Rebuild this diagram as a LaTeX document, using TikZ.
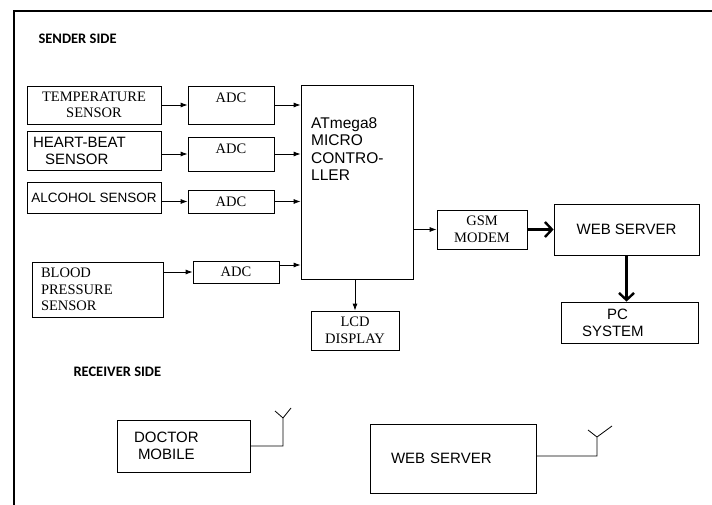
\documentclass[tikz,border=0pt]{standalone}
\usepackage{fontspec}
\setmainfont{Liberation Serif}
\setsansfont{Liberation Sans}
\newfontfamily\headfont{Carlito}
\usetikzlibrary{arrows.meta}
\tikzset{
  blk/.style={draw,line width=0.8pt,inner sep=0pt},
  rmtxt/.style={font=\rmfamily\fontsize{14.5}{16.5}\selectfont},
  sftxt/.style={font=\sffamily\fontsize{15}{17}\selectfont},
  head/.style={font=\headfont\bfseries\fontsize{14.5}{16}\selectfont,anchor=west},
  sig/.style={-{Latex[length=7pt,width=5pt]},line width=0.8pt},
  bus/.style={-{Straight Barb[length=7pt,width=15pt]},line width=2.4pt},
  wire/.style={line width=0.8pt},
}
\begin{document}
\begin{tikzpicture}[x=1pt,y=-1pt]
\useasboundingbox (0,0) rectangle (712,505);
\draw[line width=2pt] (712,11) -- (14,11) -- (14,505);

\node[head] (sender) at (35,39) {SENDER SIDE};
\node[head] (receiver) at (70,372) {RECEIVER SIDE};

% sensors
\node[blk,rmtxt,align=center,minimum width=134pt,minimum height=38pt] (temp) at (94,105) {TEMPERATURE\\SENSOR};
\node[blk,sftxt,align=left,text width=122pt,inner xsep=6pt,minimum height=39pt] (heart) at (94,150.5) {HEART-BEAT\\\hspace*{12pt}SENSOR};
\node[blk,sftxt,font=\sffamily\fontsize{13.5}{15}\selectfont,minimum width=134pt,minimum height=31pt] (alco) at (94,197.5) {ALCOHOL SENSOR};
\node[blk,rmtxt,align=left,text width=113pt,inner xsep=9pt,minimum height=55pt] (bp) at (97.5,289.5) {BLOOD\\PRESSURE\\SENSOR};

% converters
\node[blk,minimum width=86pt,minimum height=38pt] (adc1) at (231,105) {};
\node[rmtxt] (adc1txt) at (231,98) {ADC};
\node[blk,minimum width=86pt,minimum height=34pt] (adc2) at (231,154) {};
\node[rmtxt] (adc2txt) at (231,149) {ADC};
\node[blk,rmtxt,minimum width=86pt,minimum height=23pt] (adc3) at (231,201.5) {ADC};
\node[blk,rmtxt,minimum width=86pt,minimum height=22pt] (adc4) at (236,272) {ADC};

% controller
\node[blk,minimum width=112pt,minimum height=194pt] (mcu) at (357,182) {};
\node[sftxt,font=\sffamily\fontsize{15.5}{17.5}\selectfont,align=left,anchor=north west,inner sep=0pt] (mcutxt) at (311,117) {ATmega8\\MICRO\\CONTRO-\\LLER};

\node[blk,rmtxt,align=center,minimum width=88pt,minimum height=39pt] (lcd) at (355,330.5) {LCD\\DISPLAY};
\node[blk,rmtxt,align=center,minimum width=90pt,minimum height=39pt] (gsm) at (482,229.5) {GSM\\MODEM};
\node[blk,sftxt,minimum width=145pt,minimum height=51pt] (web) at (626.5,229.5) {WEB SERVER};
\node[blk,sftxt,align=left,text width=95pt,inner xsep=21pt,minimum height=41pt] (pc) at (629.5,322.5) {\hspace*{25pt}PC\\SYSTEM};

% receiver
\node[blk,sftxt,align=left,text width=99pt,inner xsep=17pt,minimum height=52pt] (doc) at (183.5,446) {DOCTOR\\\hspace*{4pt}MOBILE};
\node[blk,sftxt,align=left,text width=124pt,inner xsep=21pt,minimum height=69pt] (web2) at (453,458.5) {WEB SERVER};

\draw[sig] (temp.east) -- (adc1.west);
\draw[sig] (heart.east |- adc2) -- (adc2.west);
\draw[sig] (alco.east |- adc3) -- (adc3.west);
\draw[sig] (bp.east |- adc4) -- (adc4.west);
\draw[sig] (adc1.east) -- (adc1.east -| mcu.west);
\draw[sig] (adc2.east) -- (adc2.east -| mcu.west);
\draw[sig] (adc3.east) -- (adc3.east -| mcu.west);
\draw[sig] ([yshift=7pt]adc4.east) -- ([yshift=7pt]adc4.east -| mcu.west);
\draw[sig] (lcd.north |- mcu.south) -- (lcd.north);
\draw[sig] (gsm.west -| mcu.east) -- (gsm.west);
\draw[bus] (gsm.east) -- (gsm.east -| web.west);
\draw[bus] (web.south) -- (web.south |- pc.north);

% antennas
\coordinate (ant1) at (283,418);
\coordinate (ant2) at (597,437);
\draw[wire] (doc.east) -| (ant1) -- (275,411) (ant1) -- (291,408);
\draw[wire] (web2.east |- 0,456) -| (ant2) -- (588,430) (ant2) -- (612,426);
\end{tikzpicture}
\end{document}
